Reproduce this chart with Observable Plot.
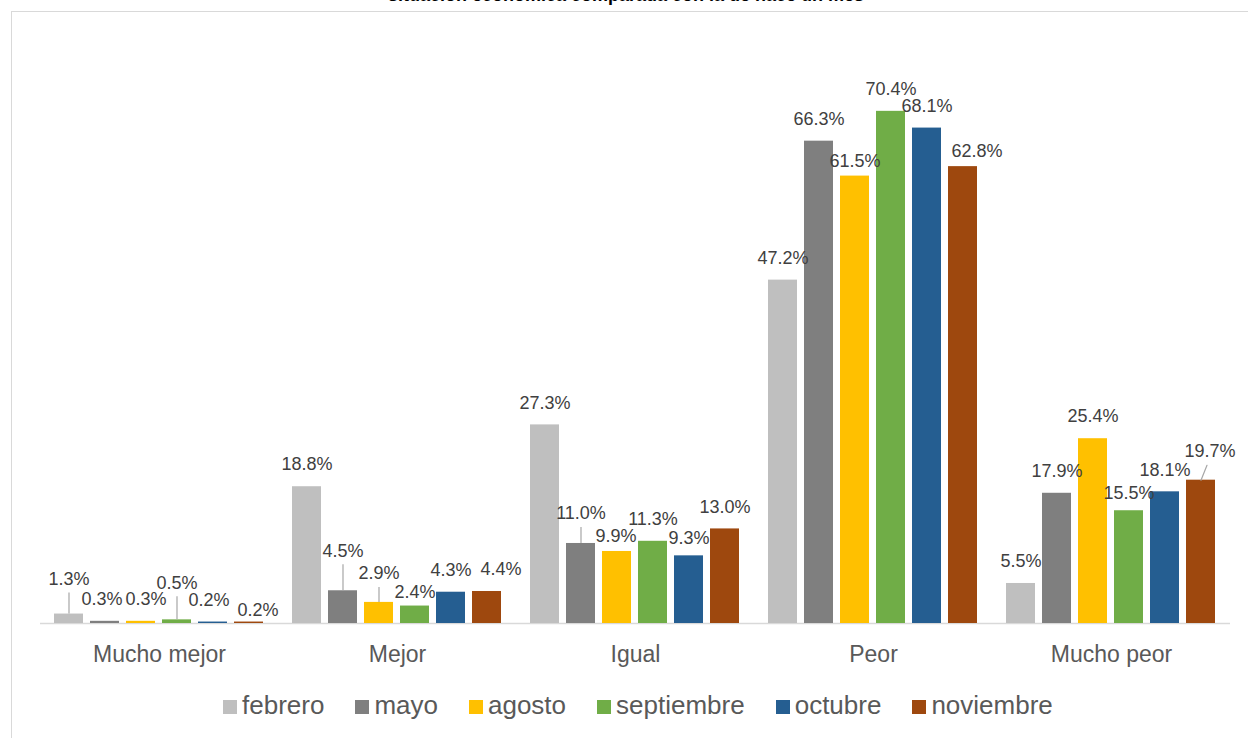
<!DOCTYPE html>
<html>
<head>
<meta charset="utf-8">
<script src="https://cdn.jsdelivr.net/npm/d3@7"></script>
<script src="https://cdn.jsdelivr.net/npm/@observablehq/plot@0.6"></script>
<style>
  html, body { margin: 0; padding: 0; background: #fff; overflow: hidden; }
  #wrap { position: relative; width: 1248px; height: 738px; overflow: hidden; font-family: "Liberation Sans", Arial, sans-serif; }
  #frame { position: absolute; left: 11px; top: 11px; width: 1300px; height: 800px; border: 1px solid #d9d9d9; box-sizing: border-box; }
  #title { position: absolute; top: -15px; left: 0; width: 1252px; text-align: center; font-weight: bold; font-size: 18px; line-height: 20px; color: #000; white-space: nowrap; }
  #chart { position: absolute; left: 0; top: 0; }
  #legend { position: absolute; left: 223px; top: 690px; display: flex; align-items: center; font-size: 26px; color: #595959; white-space: nowrap; }
  #legend .item { display: flex; align-items: center; margin-right: 31px; }
  #legend .sw { width: 14px; height: 14px; margin-right: 5px; margin-top: 3px; }
</style>
</head>
<body>
<div id="wrap">
  <div id="frame"></div>
  <div id="title">situación económica comparada con la de hace un mes</div>
  <div id="chart"></div>
  <div id="legend"></div>
</div>
<script>
// ---- data ----
const categories = ["Mucho mejor", "Mejor", "Igual", "Peor", "Mucho peor"];
const months = ["febrero", "mayo", "agosto", "septiembre", "octubre", "noviembre"];
const febrero    = [1.3, 18.8, 27.3, 47.2, 5.5];
const mayo       = [0.3, 4.5, 11.0, 66.3, 17.9];
const agosto     = [0.3, 2.9, 9.9, 61.5, 25.4];
const septiembre = [0.5, 2.4, 11.3, 70.4, 15.5];
const octubre    = [0.2, 4.3, 9.3, 68.1, 18.1];
const noviembre  = [0.2, 4.4, 13.0, 62.8, 19.7];
const colors = ["#bfbfbf", "#7f7f7f", "#ffc000", "#70ad47", "#255e91", "#9e480e"];

const series = {febrero, mayo, agosto, septiembre, octubre, noviembre};
const rows = [];
categories.forEach((cat, i) => {
  months.forEach(m => rows.push({cat, month: m, value: series[m][i]}));
});

// manual label placement (like hand-placed Excel labels)
const nudges = [
  {cat: "Mucho mejor", month: "febrero", dx: 0, dy: -13, leader: true},
  {cat: "Mucho mejor", month: "mayo", dx: -3, dy: 0},
  {cat: "Mucho mejor", month: "agosto", dx: 5, dy: 0},
  {cat: "Mucho mejor", month: "septiembre", dx: 0, dy: -15, leader: true},
  {cat: "Mucho mejor", month: "octubre", dx: -4, dy: 0},
  {cat: "Mucho mejor", month: "noviembre", dx: 9, dy: 10},
  {cat: "Mejor", month: "mayo", dx: 0, dy: -18, leader: true},
  {cat: "Mejor", month: "agosto", dx: 0, dy: -7, leader: true},
  {cat: "Mejor", month: "septiembre", dx: 0, dy: 8},
  {cat: "Mejor", month: "noviembre", dx: 14, dy: 0},
  {cat: "Igual", month: "mayo", dx: 0, dy: -8, leader: true},
  {cat: "Igual", month: "agosto", dx: -1, dy: 7},
  {cat: "Igual", month: "octubre", dx: 0, dy: 4},
  {cat: "Peor", month: "agosto", dx: 0, dy: 7},
  {cat: "Peor", month: "noviembre", dx: 14, dy: 7},
  {cat: "Mucho peor", month: "septiembre", dx: 0, dy: 4},
  {cat: "Mucho peor", month: "noviembre", dx: 9, dy: -7, diag: true}
];
const isNudged = d => nudges.some(n => n.cat === d.cat && n.month === d.month);
const fmt = d => d.value.toFixed(1) + "%";
const labelStyle = {fontSize: 18, fill: "#404040", lineAnchor: "middle", text: fmt, x: "month", y: "value"};
const baseDy = -22;

const marks = [
  Plot.ruleY([0], {stroke: "#d9d9d9", strokeWidth: 1.5}),
  Plot.barY(rows, {x: "month", y: "value", fill: "month"}),
  Plot.text(rows, {...labelStyle, filter: d => !isNudged(d), dy: baseDy})
];
for (const n of nudges) {
  const f = d => d.cat === n.cat && d.month === n.month;
  marks.push(Plot.text(rows, {...labelStyle, filter: f, dx: n.dx, dy: baseDy + n.dy}));
  if (n.leader) {
    marks.push(Plot.ruleX(rows, {filter: f, x: "month", y1: "value", y2: "value", insetTop: -(8 - n.dy), stroke: "#a6a6a6", strokeWidth: 1.2}));
  }
  if (n.diag) {
    marks.push(Plot.vector(rows, {filter: f, x: "month", y: "value", length: 16, rotate: 22, anchor: "start", stroke: "#a6a6a6", strokeWidth: 1.2,
      shape: {draw(ctx, l) { ctx.moveTo(0, 0); ctx.lineTo(0, -l); }}}));
  }
}

const chart = Plot.plot({
  width: 1248,
  height: 690,
  marginLeft: 40,
  marginRight: 18,
  marginTop: 41,
  marginBottom: 67,
  facet: {data: rows, x: "cat"},
  fx: {domain: categories, padding: 0, axis: "bottom", label: null, tickSize: 0, tickPadding: 22},
  x: {domain: months, paddingInner: 0.19, paddingOuter: 0.4, axis: null},
  y: {domain: [0, 80], axis: null},
  color: {domain: months, range: colors},
  style: {fontFamily: "'Liberation Sans', Arial, sans-serif", fontSize: "23px", color: "#595959", background: "transparent", overflow: "visible"},
  marks
});
document.getElementById("chart").appendChild(chart);

// legend
const legend = document.getElementById("legend");
months.forEach((m, i) => {
  const item = document.createElement("div");
  item.className = "item";
  const sw = document.createElement("div");
  sw.className = "sw";
  sw.style.background = colors[i];
  const t = document.createElement("span");
  t.textContent = m;
  item.appendChild(sw);
  item.appendChild(t);
  legend.appendChild(item);
});
</script>
</body>
</html>
